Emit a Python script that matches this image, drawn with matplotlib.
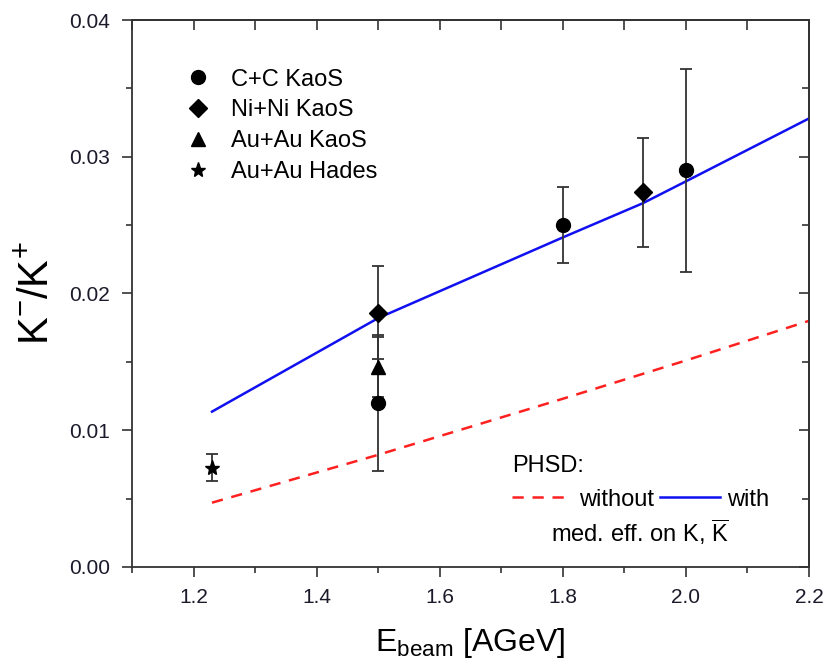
import numpy as np
import matplotlib
matplotlib.use('Agg')
import matplotlib.pyplot as plt
from matplotlib.ticker import MultipleLocator, FormatStrFormatter

plt.rcParams['font.family'] = ['Liberation Sans', 'DejaVu Sans']
plt.rcParams['mathtext.fontset'] = 'custom'
plt.rcParams['mathtext.rm'] = 'Liberation Sans'
plt.rcParams['mathtext.it'] = 'Liberation Sans:italic'

# experimental data (x, y, error)
cc_x = [1.5, 1.8, 2.0]
cc_y = [0.0120, 0.0250, 0.0290]
cc_err = [0.0050, 0.0028, 0.0074]

nini_x = [1.5, 1.93]
nini_y = [0.0186, 0.0274]
nini_err = [0.0034, 0.0040]

auau_x = [1.5]
auau_y = [0.01465]
auau_err = [0.0022]

hades_x = [1.23]
hades_y = [0.00725]
hades_err = [0.0010]

# PHSD curves
with_x = [1.23, 1.5, 1.8, 1.93, 2.0, 2.2]
with_y = [0.01136, 0.0182, 0.0241, 0.0266, 0.0282, 0.0328]
without_x = [1.23, 1.5, 1.8, 2.0, 2.2]
without_y = [0.0047, 0.0082, 0.0123, 0.0151, 0.0180]

fig = plt.figure(figsize=(8.25, 6.67), dpi=100)
ax = fig.add_axes([0.16, 0.15, 0.8206, 0.82])

red_line, = ax.plot(without_x, without_y, color='#ff2020', ls=(0, (4.5, 3.5)), lw=1.8)
blue_line, = ax.plot(with_x, with_y, color='#1010f0', lw=1.8)

ekw = dict(ls='none', color='black', ecolor='#333333', elinewidth=1.3, capsize=4.5, capthick=1.3)
h1 = ax.errorbar(cc_x, cc_y, yerr=cc_err, fmt='o', ms=10, **ekw)
h2 = ax.errorbar(nini_x, nini_y, yerr=nini_err, fmt='D', ms=9, **ekw)
h3 = ax.errorbar(auau_x, auau_y, yerr=auau_err, fmt='^', ms=10, **ekw)
h4 = ax.errorbar(hades_x, hades_y, yerr=hades_err, fmt='*', ms=11, **ekw)

ax.set_xlim(1.1, 2.2)
ax.set_ylim(0, 0.04)
ax.xaxis.set_major_locator(MultipleLocator(0.2))
ax.xaxis.set_minor_locator(MultipleLocator(0.1))
ax.yaxis.set_major_locator(MultipleLocator(0.01))
ax.yaxis.set_minor_locator(MultipleLocator(0.005))
ax.xaxis.set_major_formatter(FormatStrFormatter('%.1f'))
ax.yaxis.set_major_formatter(FormatStrFormatter('%.2f'))

for s in ax.spines.values():
    s.set_color('#333333')
    s.set_linewidth(1.3)
ax.tick_params(which='both', direction='out', colors='#333333', labelcolor='#1a1a2a',
               labelsize=15, width=1.2)
ax.tick_params(which='major', length=7)
ax.tick_params(which='minor', length=4)
ax.tick_params(axis='x', pad=8)
ax.tick_params(axis='y', pad=9)

# mirrored ticks on top and right, pointing inward
secx = ax.secondary_xaxis('top')
secx.xaxis.set_major_locator(MultipleLocator(0.2))
secx.xaxis.set_minor_locator(MultipleLocator(0.1))
secx.tick_params(which='both', direction='in', labeltop=False, colors='#333333', width=1.2)
secx.tick_params(which='major', length=7)
secx.tick_params(which='minor', length=7)
secx.spines['top'].set_color('#333333')
secx.spines['top'].set_linewidth(1.3)
secy = ax.secondary_yaxis('right')
secy.yaxis.set_major_locator(MultipleLocator(0.01))
secy.yaxis.set_minor_locator(MultipleLocator(0.005))
secy.tick_params(which='both', direction='in', labelright=False, colors='#333333', width=1.2)
secy.tick_params(which='major', length=7)
secy.tick_params(which='minor', length=5)
secy.spines['right'].set_color('#333333')
secy.spines['right'].set_linewidth(1.3)

ax.set_xlabel(r'E$_{\mathregular{beam}}$ [AGeV]', fontsize=23, labelpad=14)
ax.set_ylabel(r'K$^{\mathregular{-}}$/K$^{\mathregular{+}}$', fontsize=30, labelpad=8)

leg1 = ax.legend([h1[0], h2[0], h3[0], h4[0]],
                 ['C+C KaoS', 'Ni+Ni KaoS', 'Au+Au KaoS', 'Au+Au Hades'],
                 loc='upper left', bbox_to_anchor=(0.0805, 0.911), frameon=False,
                 fontsize=17, handlelength=1.0, handletextpad=0.9, labelspacing=0.37,
                 borderpad=0, borderaxespad=0)
ax.add_artist(leg1)

leg2 = ax.legend([red_line, blue_line], ['without', 'with'], ncol=2,
                 loc='upper left', bbox_to_anchor=(0.561, 0.205), frameon=False,
                 fontsize=17, handlelength=2.55, handletextpad=0.3, columnspacing=0.26,
                 title='PHSD:', title_fontsize=17, alignment='left',
                 borderpad=0, borderaxespad=0)
ax.text(0.750, 0.064, r'med. eff. on K, $\overline{\mathrm{K}}$', transform=ax.transAxes,
        fontsize=17, ha='center', va='center')

fig.savefig('out.png', dpi=100)
